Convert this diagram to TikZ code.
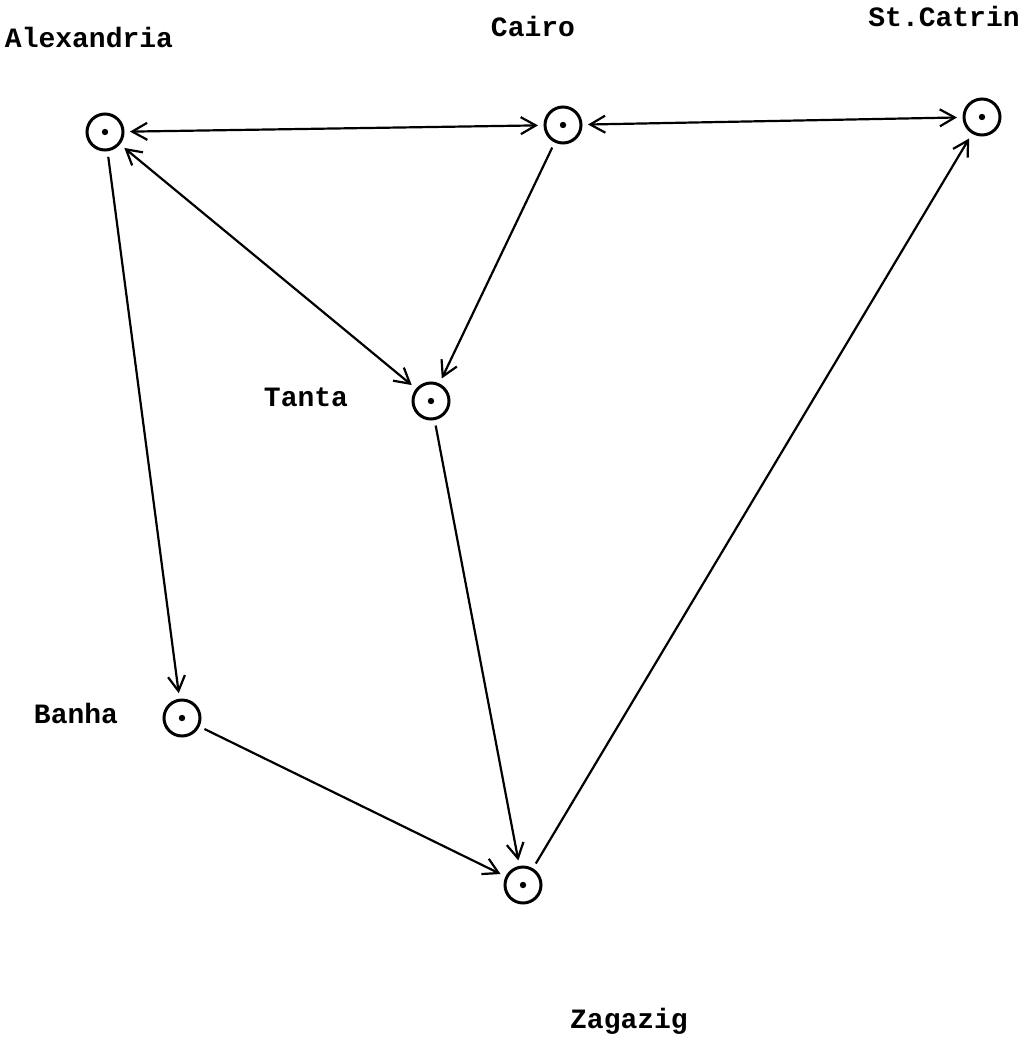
\documentclass[tikz,border=0pt]{standalone}
\usepackage{fontspec}
\setmainfont{Liberation Mono}
\usetikzlibrary{arrows.meta}
\begin{document}
\begin{tikzpicture}[x=1pt,y=-1pt,
  city/.style={circle,draw,line width=3pt,minimum size=36pt,inner sep=0pt,outer sep=7pt,
    path picture={\fill (path picture bounding box.center) circle (3.2pt);}},
  lbl/.style={font=\fontsize{28}{30}\selectfont\bfseries,anchor=base,inner sep=0pt},
  tip/.tip={Straight Barb[length=15pt,width=17pt,line width=2.2pt]},
  con/.style={line width=2.2pt,-tip},
  bicon/.style={line width=2.2pt,tip-tip}]
\useasboundingbox[fill=white] (0,0) rectangle (1035,1041);
\node[city] (alex) at (105,132) {};
\node[city] (cairo) at (563,125) {};
\node[city] (cat) at (982,117) {};
\node[city] (tanta) at (431,401) {};
\node[city] (banha) at (182,718) {};
\node[city] (zag) at (523,885) {};
\node[lbl] (lalex) at (89,48) {Alexandria};
\node[lbl] (lcairo) at (533,37) {Cairo};
\node[lbl] (lcat) at (944,27) {St.Catrin};
\node[lbl] (ltanta) at (306,406) {Tanta};
\node[lbl] (lbanha) at (76,723) {Banha};
\node[lbl] (lzag) at (629,1028) {Zagazig};
\draw[bicon] (alex) -- (cairo);
\draw[bicon] (cairo) -- (cat);
\draw[bicon] (alex) -- (tanta);
\draw[con] (cairo) -- (tanta);
\draw[con] (alex) -- (banha);
\draw[con] (tanta) -- (zag);
\draw[con] (banha) -- (zag);
\draw[con] (zag) -- (cat);
\end{tikzpicture}
\end{document}
